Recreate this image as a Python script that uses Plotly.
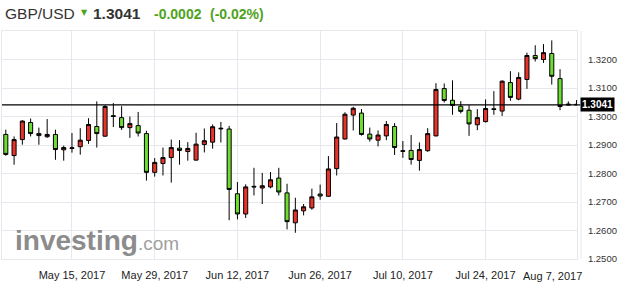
import plotly.graph_objects as go

# ---------------- data ----------------
dates = [
    "2017-05-03", "2017-05-04", "2017-05-05",
    "2017-05-08", "2017-05-09", "2017-05-10", "2017-05-11", "2017-05-12",
    "2017-05-15", "2017-05-16", "2017-05-17", "2017-05-18", "2017-05-19",
    "2017-05-22", "2017-05-23", "2017-05-24", "2017-05-25", "2017-05-26",
    "2017-05-29", "2017-05-30", "2017-05-31", "2017-06-01", "2017-06-02",
    "2017-06-05", "2017-06-06", "2017-06-07", "2017-06-08", "2017-06-09",
    "2017-06-12", "2017-06-13", "2017-06-14", "2017-06-15", "2017-06-16",
    "2017-06-19", "2017-06-20", "2017-06-21", "2017-06-22", "2017-06-23",
    "2017-06-26", "2017-06-27", "2017-06-28", "2017-06-29", "2017-06-30",
    "2017-07-03", "2017-07-04", "2017-07-05", "2017-07-06", "2017-07-07",
    "2017-07-10", "2017-07-11", "2017-07-12", "2017-07-13", "2017-07-14",
    "2017-07-17", "2017-07-18", "2017-07-19", "2017-07-20", "2017-07-21",
    "2017-07-24", "2017-07-25", "2017-07-26", "2017-07-27", "2017-07-28",
    "2017-07-31", "2017-08-01", "2017-08-02", "2017-08-03", "2017-08-04",
    "2017-08-07", "2017-08-08",
]

open_ = [
    1.2937, 1.2863, 1.2919,
    1.2979, 1.2940, 1.2929, 1.2937, 1.2883,
    1.2888, 1.2894, 1.2916, 1.2965, 1.2931,
    1.3003, 1.2996, 1.2961, 1.2968, 1.2940,
    1.2804, 1.2835, 1.2856, 1.2889, 1.2877,
    1.2847, 1.2902, 1.2910, 1.2959, 1.2956,
    1.2729, 1.2658, 1.2755, 1.2749, 1.2753,
    1.2784, 1.2732, 1.2627, 1.2669, 1.2679,
    1.2728, 1.2720, 1.2817, 1.2921, 1.3005,
    1.3012, 1.2938, 1.2917, 1.2932, 1.2965,
    1.2880, 1.2881, 1.2846, 1.2880, 1.2932,
    1.3098, 1.3057, 1.3036, 1.3022, 1.2971,
    1.2982, 1.3027, 1.3019, 1.3119, 1.3061,
    1.3130, 1.3214, 1.3200, 1.3221, 1.3133,
    1.3040, 1.3043,
]
high = [
    1.2954, 1.2930, 1.2987,
    1.2993, 1.2961, 1.2991, 1.2954, 1.2898,
    1.2942, 1.2959, 1.2994, 1.3053, 1.3040,
    1.3047, 1.3036, 1.3000, 1.3016, 1.2950,
    1.2854, 1.2891, 1.2919, 1.2917, 1.2910,
    1.2943, 1.2958, 1.2972, 1.2981, 1.2967,
    1.2770, 1.2762, 1.2820, 1.2802, 1.2805,
    1.2820, 1.2764, 1.2715, 1.2693, 1.2747,
    1.2761, 1.2861, 1.2977, 1.3015, 1.3034,
    1.3026, 1.2961, 1.2951, 1.2984, 1.2977,
    1.2914, 1.2935, 1.2909, 1.2959, 1.3117,
    1.3116, 1.3127, 1.3054, 1.3040, 1.3026,
    1.3060, 1.3089, 1.3127, 1.3159, 1.3155,
    1.3224, 1.3250, 1.3254, 1.3267, 1.3166,
    1.3053, 1.3058,
]
low = [
    1.2862, 1.2831, 1.2901,
    1.2930, 1.2901, 1.2925, 1.2848, 1.2845,
    1.2873, 1.2866, 1.2904, 1.2891, 1.2929,
    1.2963, 1.2953, 1.2925, 1.2930, 1.2775,
    1.2789, 1.2793, 1.2768, 1.2831, 1.2845,
    1.2845, 1.2874, 1.2887, 1.2909, 1.2636,
    1.2639, 1.2644, 1.2723, 1.2693, 1.2748,
    1.2723, 1.2604, 1.2592, 1.2653, 1.2673,
    1.2708, 1.2718, 1.2793, 1.2919, 1.2951,
    1.2933, 1.2912, 1.2895, 1.2917, 1.2865,
    1.2855, 1.2831, 1.2810, 1.2876, 1.2930,
    1.3049, 1.3006, 1.3011, 1.2932, 1.2952,
    1.2979, 1.3006, 1.3002, 1.3055, 1.3057,
    1.3097, 1.3193, 1.3188, 1.3112, 1.3022,
    1.3039, 1.3040,
]
close = [
    1.2867, 1.2919, 1.2984,
    1.2940, 1.2933, 1.2937, 1.2884, 1.2891,
    1.2890, 1.2917, 1.2972, 1.2940, 1.3035,
    1.3000, 1.2961, 1.2975, 1.2942, 1.2804,
    1.2839, 1.2856, 1.2891, 1.2881, 1.2888,
    1.2903, 1.2915, 1.2964, 1.2957, 1.2744,
    1.2658, 1.2753, 1.2753, 1.2757, 1.2778,
    1.2735, 1.2631, 1.2672, 1.2683, 1.2718,
    1.2721, 1.2816, 1.2928, 1.3008, 1.3029,
    1.2937, 1.2921, 1.2935, 1.2972, 1.2891,
    1.2878, 1.2849, 1.2884, 1.2940, 1.3095,
    1.3056, 1.3039, 1.3018, 1.2974, 1.2996,
    1.3028, 1.3025, 1.3124, 1.3067, 1.3137,
    1.3214, 1.3203, 1.3224, 1.3141, 1.3035,
    1.3043, 1.3041,
]

last_price = 1.3041
change = -0.0002
change_pct = -0.02

x_tick_dates = ["2017-05-15", "2017-05-29", "2017-06-12", "2017-06-26", "2017-07-10", "2017-07-24"]
x_tick_text = ["May 15, 2017", "May 29, 2017", "Jun 12, 2017", "Jun 26, 2017", "Jul 10, 2017", "Jul 24, 2017"]
last_tick_date = "2017-08-07"
last_tick_text = "Aug 7, 2017"

y_ticks = [1.25, 1.26, 1.27, 1.28, 1.29, 1.30, 1.31, 1.32]

# ---------------- style ----------------
RED = "#e8332a"
GREEN = "#6fdc31"
GRID = "#e6e8ed"
FONT = "Liberation Sans, Arial, sans-serif"
TXT_GREEN = "#4ea31d"

fig = go.Figure()
fig.add_trace(go.Candlestick(
    x=dates, open=open_, high=high, low=low, close=close,
    increasing=dict(line=dict(color="black", width=1), fillcolor=RED),
    decreasing=dict(line=dict(color="black", width=1), fillcolor=GREEN),
    whiskerwidth=0,
    showlegend=False,
    hoverinfo="skip",
))

# last price line
fig.add_shape(type="line", xref="paper", yref="y", x0=0, x1=1.006,
              y0=last_price, y1=last_price, line=dict(color="black", width=1.2), layer="above")
# right axis separator
fig.add_shape(type="line", xref="paper", yref="paper", x0=1.007, x1=1.007, y0=0, y1=1,
              line=dict(color=GRID, width=1))

annotations = []
# header
annotations.append(dict(text="GBP/USD", xref="paper", yref="paper", x=0.0017, y=1.0746,
                        xanchor="left", yanchor="middle", showarrow=False,
                        font=dict(family=FONT, size=15.5, color="#333333")))
annotations.append(dict(text="▼", xref="paper", yref="paper", x=(79 - 2) / 575, y=1 + (31 - 12) / 228,
                        xanchor="left", yanchor="middle", showarrow=False,
                        font=dict(family="DejaVu Sans", size=8, color=TXT_GREEN)))
annotations.append(dict(text="<b>%.4f</b>" % last_price, xref="paper", yref="paper", x=(91 - 2) / 575, y=1.0746,
                        xanchor="left", yanchor="middle", showarrow=False,
                        font=dict(family=FONT, size=15.5, color="#333333")))
annotations.append(dict(text="<b>%.4f</b>" % change, xref="paper", yref="paper", x=(152 - 2) / 575, y=1.0746,
                        xanchor="left", yanchor="middle", showarrow=False,
                        font=dict(family=FONT, size=14, color=TXT_GREEN)))
annotations.append(dict(text="<b>(%.2f%%)</b>" % change_pct, xref="paper", yref="paper", x=(208 - 2) / 575, y=1.0746,
                        xanchor="left", yanchor="middle", showarrow=False,
                        font=dict(family=FONT, size=14, color=TXT_GREEN)))
# last price label box
annotations.append(dict(text="<b>%.4f</b>" % last_price, xref="paper", yref="y", x=1.005, y=last_price,
                        xanchor="left", yanchor="middle", showarrow=False, bgcolor="black",
                        borderpad=1, font=dict(family=FONT, size=10, color="white")))
# last x label (shifted inside)
annotations.append(dict(text=last_tick_text, xref="x", yref="paper", x=last_tick_date, y=0,
                        xanchor="center", yanchor="top", xshift=-16, yshift=-9, showarrow=False,
                        font=dict(family=FONT, size=11, color="#222222")))
# watermark
annotations.append(dict(text="<b>investing</b>", xref="paper", yref="paper", x=(13 - 2) / 575, y=(259 - 240) / 228,
                        xanchor="left", yanchor="middle", showarrow=False,
                        font=dict(family=FONT, size=28, color="#8c8c8c")))
annotations.append(dict(text=".com", xref="paper", yref="paper", x=(136 - 2) / 575, y=(259 - 243) / 228,
                        xanchor="left", yanchor="middle", showarrow=False,
                        font=dict(family=FONT, size=19, color="#a0a0a0")))

fig.update_layout(
    width=626, height=291,
    margin=dict(l=2, r=49, t=31, b=32),
    paper_bgcolor="white", plot_bgcolor="white",
    annotations=annotations,
    xaxis=dict(
        type="category",
        range=[-0.46, 69.05],
        rangeslider=dict(visible=False),
        tickmode="array", tickvals=x_tick_dates, ticktext=x_tick_text,
        showgrid=True, gridcolor=GRID, gridwidth=1,
        showline=True, linecolor=GRID, mirror=True,
        ticks="", ticklabelstandoff=6,
        tickfont=dict(family=FONT, size=11, color="#222222"),
        zeroline=False, fixedrange=True,
    ),
    yaxis=dict(
        side="right",
        range=[1.25, 1.33],
        tickmode="array", tickvals=y_ticks, ticktext=["%.4f" % v for v in y_ticks],
        showgrid=True, gridcolor=GRID, gridwidth=1,
        showline=True, linecolor=GRID, mirror=True,
        ticks="", ticklabelstandoff=8,
        tickfont=dict(family=FONT, size=9.5, color="#333333"),
        zeroline=False, fixedrange=True,
    ),
)

fig.write_html("out.html")
